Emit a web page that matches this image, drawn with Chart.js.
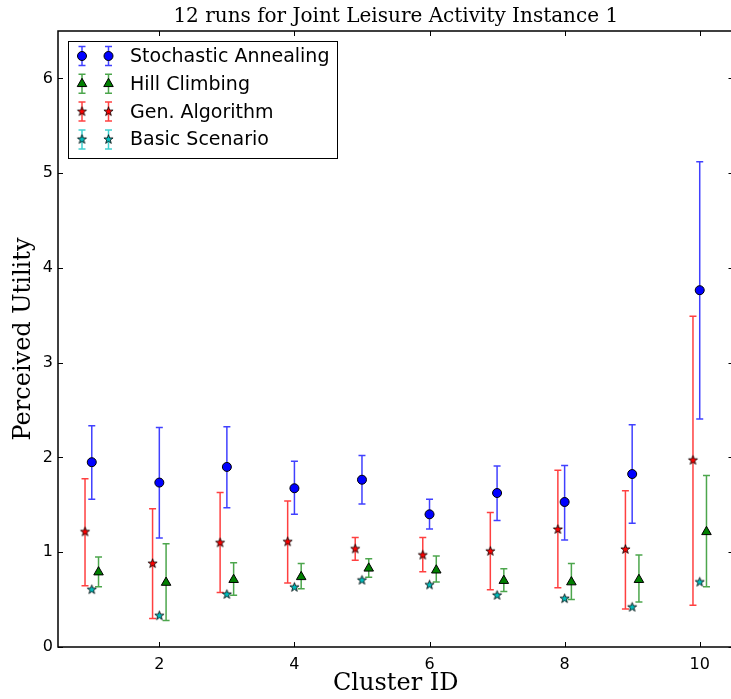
<!DOCTYPE html>
<html>
<head>
<meta charset="utf-8">
<script src="https://cdn.jsdelivr.net/npm/chart.js@4.4.0/dist/chart.umd.min.js"></script>
<style>
  html, body { margin: 0; padding: 0; overflow: hidden; background: #fff; }
  #wrap { width: 731px; height: 699px; overflow: hidden; }
</style>
</head>
<body>
<div id="wrap"><canvas id="runsChart" width="740" height="699"></canvas></div>
<script>
const clusters = [1, 2, 3, 4, 5, 6, 7, 8, 9, 10];

const saMean = [1.95, 1.735, 1.90, 1.675, 1.765, 1.40, 1.625, 1.53, 1.825, 3.765];
const saLow  = [1.56, 1.15, 1.47, 1.40, 1.51, 1.245, 1.335, 1.13, 1.305, 2.405];
const saHigh = [2.335, 2.315, 2.325, 1.96, 2.02, 1.56, 1.91, 1.915, 2.345, 5.12];

const hcMean = [0.79, 0.68, 0.71, 0.74, 0.83, 0.81, 0.70, 0.685, 0.71, 1.215];
const hcLow  = [0.635, 0.28, 0.545, 0.615, 0.735, 0.685, 0.585, 0.50, 0.475, 0.635];
const hcHigh = [0.95, 1.09, 0.89, 0.88, 0.93, 0.96, 0.825, 0.88, 0.97, 1.81];

const gaMean = [1.215, 0.88, 1.10, 1.11, 1.035, 0.97, 1.01, 1.24, 1.03, 1.97];
const gaLow  = [0.645, 0.30, 0.575, 0.675, 0.915, 0.795, 0.605, 0.625, 0.40, 0.44];
const gaHigh = [1.775, 1.46, 1.63, 1.54, 1.155, 1.155, 1.42, 1.865, 1.65, 3.49];

const bsMean = [0.605, 0.33, 0.555, 0.63, 0.705, 0.655, 0.545, 0.51, 0.42, 0.685];

const xTickValues = [2, 4, 6, 8, 10];
const yTickValues = [0, 1, 2, 3, 4, 5, 6];

// filled five-point star used as a point style
function starImage(fill, outer) {
    const size = Math.ceil(outer * 2 + 3);
    const c = document.createElement('canvas');
    c.width = c.height = size;
    const g = c.getContext('2d');
    const inner = outer * 0.4;
    g.beginPath();
    for (let i = 0; i < 10; i++) {
        const r = i % 2 ? inner : outer;
        const a = -Math.PI / 2 + i * Math.PI / 5;
        g.lineTo(size / 2 + r * Math.cos(a), size / 2 + r * Math.sin(a));
    }
    g.closePath();
    g.fillStyle = fill;
    g.fill();
    g.strokeStyle = '#000';
    g.lineWidth = 0.8;
    g.stroke();
    return c;
}

const series = [
    { label: 'Stochastic Annealing', mean: saMean, low: saLow, high: saHigh, shift: 0,
      color: '#0000ff', bar: 'rgba(0,0,255,0.75)', style: 'circle', radius: 4.5 },
    { label: 'Hill Climbing', mean: hcMean, low: hcLow, high: hcHigh, shift: 0.1,
      color: '#008000', bar: 'rgba(0,128,0,0.7)', style: 'triangle', radius: 5.5 },
    { label: 'Gen. Algorithm', mean: gaMean, low: gaLow, high: gaHigh, shift: -0.1,
      color: '#ff0000', bar: 'rgba(255,0,0,0.75)', style: starImage('#ff0000', 4.8), radius: 4.8 },
    { label: 'Basic Scenario', mean: bsMean, low: bsMean, high: bsMean, shift: 0,
      color: '#00bfbf', bar: 'rgba(0,191,191,0.75)', style: starImage('#00bfbf', 4.8), radius: 4.8 }
];

const CAP = 3.5;

function drawBar(ctx, x, top, bottom) {
    ctx.beginPath();
    ctx.moveTo(x, top); ctx.lineTo(x, bottom);
    ctx.moveTo(x - CAP, top); ctx.lineTo(x + CAP, top);
    ctx.moveTo(x - CAP, bottom); ctx.lineTo(x + CAP, bottom);
    ctx.stroke();
}

const errorBars = {
    id: 'errorBars',
    beforeDatasetsDraw(chart) {
        const ctx = chart.ctx;
        const y = chart.scales.y;
        chart.data.datasets.forEach((ds, i) => {
            const meta = chart.getDatasetMeta(i);
            ctx.save();
            ctx.strokeStyle = ds.barColor;
            ctx.lineWidth = 1.5;
            meta.data.forEach((pt, j) => {
                const top = y.getPixelForValue(ds.high[j]);
                const bottom = y.getPixelForValue(ds.low[j]);
                if (bottom - top < 0.5) return;
                drawBar(ctx, pt.x, top, bottom);
            });
            ctx.restore();
        });
    }
};

// box around the axes with inward ticks on every side
const frame = {
    id: 'frame',
    afterDatasetsDraw(chart) {
        const { ctx, chartArea: a, scales: { x, y } } = chart;
        ctx.save();
        ctx.strokeStyle = '#000';
        ctx.lineWidth = 1;
        ctx.beginPath();
        xTickValues.forEach(v => {
            const px = Math.round(x.getPixelForValue(v)) + 0.5;
            ctx.moveTo(px, a.bottom); ctx.lineTo(px, a.bottom - 5);
            ctx.moveTo(px, a.top); ctx.lineTo(px, a.top + 5);
        });
        yTickValues.forEach(v => {
            const py = Math.round(y.getPixelForValue(v)) + 0.5;
            ctx.moveTo(a.left, py); ctx.lineTo(a.left + 5, py);
            ctx.moveTo(a.right, py); ctx.lineTo(a.right - 5, py);
        });
        ctx.stroke();
        ctx.lineWidth = 1.5;
        ctx.strokeRect(Math.round(a.left), Math.round(a.top), Math.round(a.right - a.left), Math.round(a.bottom - a.top));
        ctx.restore();
    }
};

// legend with two markers and their error bars per entry
const boxLegend = {
    id: 'boxLegend',
    afterDraw(chart) {
        const { ctx, chartArea: a } = chart;
        const left = a.left + 10, top = a.top + 10;
        ctx.save();
        ctx.fillStyle = '#fff';
        ctx.fillRect(left, top, 269, 117);
        ctx.strokeStyle = '#000';
        ctx.lineWidth = 1;
        ctx.strokeRect(left + 0.5, top + 0.5, 269, 117);
        chart.data.datasets.forEach((ds, i) => {
            const cy = top + 15 + i * 27.8;
            [left + 14, left + 40.5].forEach(cx => {
                ctx.strokeStyle = ds.barColor;
                ctx.lineWidth = 1.5;
                drawBar(ctx, cx, cy - 9.5, cy + 9.5);
                ctx.fillStyle = ds.pointBackgroundColor;
                ctx.strokeStyle = '#000';
                ctx.lineWidth = 1;
                Chart.helpers.drawPoint(ctx, {
                    pointStyle: ds.pointStyle, radius: ds.pointRadius, rotation: 0, borderWidth: 1
                }, cx, cy);
            });
            ctx.fillStyle = '#000';
            ctx.font = '19px "DejaVu Sans"';
            ctx.textBaseline = 'middle';
            ctx.textAlign = 'left';
            ctx.fillText(ds.label, left + 62, cy + 1);
        });
        ctx.restore();
    }
};

const datasets = series.map(s => ({
    label: s.label,
    data: clusters.map((c, i) => ({ x: c + s.shift, y: s.mean[i] })),
    high: s.high,
    low: s.low,
    barColor: s.bar,
    pointStyle: s.style,
    pointRadius: s.radius,
    pointHoverRadius: s.radius,
    pointBackgroundColor: s.color,
    pointBorderColor: '#000',
    pointBorderWidth: 1,
    showLine: false
}));

new Chart(document.getElementById('runsChart'), {
    type: 'scatter',
    data: { datasets },
    plugins: [errorBars, frame, boxLegend],
    options: {
        responsive: false,
        animation: false,
        layout: { padding: { left: 0, right: 6, top: 0, bottom: 0 } },
        plugins: {
            legend: { display: false },
            tooltip: { enabled: false },
            title: {
                display: true,
                fullSize: false,
                text: '12 runs for Joint Leisure Activity Instance 1',
                color: '#000',
                font: { family: '"DejaVu Serif"', size: 20, weight: 'normal', lineHeight: 1.2 },
                padding: { top: 5, bottom: 2 }
            }
        },
        scales: {
            x: {
                type: 'linear',
                min: 0.5,
                max: 10.5,
                afterBuildTicks: s => { s.ticks = xTickValues.map(v => ({ value: v })); },
                afterFit: s => { s.height = 52; },
                grid: { display: false, drawTicks: false },
                border: { display: false },
                ticks: { color: '#000', padding: 8, font: { family: '"DejaVu Sans"', size: 16 } },
                title: {
                    display: true,
                    text: 'Cluster ID',
                    color: '#000',
                    font: { family: '"DejaVu Serif"', size: 24, lineHeight: 1.2 },
                    padding: { top: 0, bottom: 0.5 }
                }
            },
            y: {
                min: 0,
                max: 6.5,
                afterBuildTicks: s => { s.ticks = yTickValues.map(v => ({ value: v })); },
                afterFit: s => { s.width = 58; },
                grid: { display: false, drawTicks: false },
                border: { display: false },
                ticks: { color: '#000', padding: 5, font: { family: '"DejaVu Sans"', size: 16 } },
                title: {
                    display: true,
                    text: 'Perceived Utility',
                    color: '#000',
                    font: { family: '"DejaVu Serif"', size: 24, lineHeight: 1.2 },
                    padding: { top: 9.5, bottom: 0 }
                }
            }
        }
    }
});
</script>
</body>
</html>
